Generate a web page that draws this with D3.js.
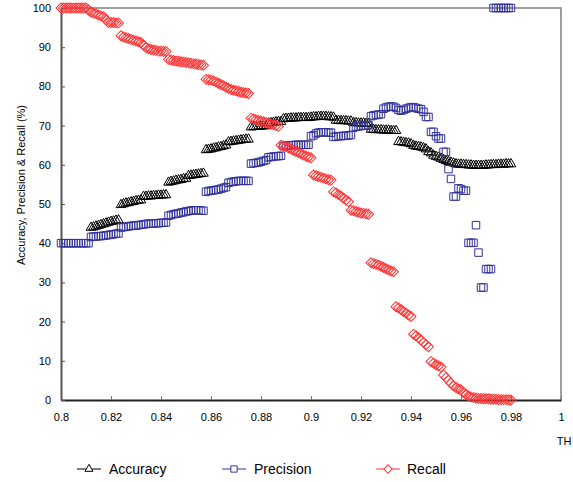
<!DOCTYPE html>
<html>
<head>
<meta charset="utf-8">
<script src="https://cdn.jsdelivr.net/npm/d3@7"></script>
<style>
  body { margin: 0; background: #fff; }
  text { font-family: "Liberation Sans", Arial, sans-serif; }
</style>
</head>
<body>
<div id="chart"></div>
<script>
// thresholds TH = 0.800 ... 0.980, one point every 0.001
const thresholds = d3.range(800, 981).map((d) => d / 1000);

// accuracy markers at 0.800-0.811 sit under the precision squares (not visible)
const accuracy = [
  null, null, null, null, null, null, null, null, null, null, null, null,
  44.0, 44.1, 44.3, 44.5, 44.7, 44.9, 45.1, 45.3, 45.5, 45.6, 45.8, 45.9,
  49.8, 50.0, 50.2, 50.3, 50.5, 50.6, 50.8, 50.9, 51.0,
  51.9, 51.9, 52.0, 52.0, 52.1, 52.1, 52.2, 52.2, 52.3, 52.3,
  55.5, 55.7, 55.8, 56.0, 56.1, 56.2, 56.4, 56.5,
  57.2, 57.3, 57.4, 57.5, 57.6, 57.7, 57.8,
  63.8, 63.9, 64.0, 64.2, 64.3, 64.5, 64.6, 64.8, 65.0,
  65.8, 65.9, 66.0, 66.1, 66.2, 66.3, 66.4, 66.5, 66.5,
  69.6, 69.7, 69.7, 69.8, 69.8, 69.9, 69.9,
  70.6, 70.7, 70.8, 70.9, 71.0, 71.0,
  71.7, 71.8, 71.8, 71.9, 71.9, 71.9, 72.0, 72.0, 72.0, 72.0, 72.0,
  72.1, 72.2, 72.2, 72.3, 72.3, 72.3, 72.3, 72.2, 72.2, 72.1,
  71.3, 71.3, 71.2, 71.2, 71.2, 71.1, 71.1,
  70.7, 70.7, 70.6, 70.6, 70.6, 70.5, 70.5,
  69.0, 69.0, 68.9, 68.9, 68.9, 68.8, 68.8, 68.8, 68.7, 68.7, 68.7,
  65.9, 65.8, 65.7, 65.6, 65.5, 65.3,
  64.9, 64.7, 64.6, 64.5, 64.3, 64.0,
  63.3, 63.0,
  62.4, 62.1, 61.9, 61.6, 61.3,
  61.0, 60.8, 60.6, 60.4,
  60.2, 60.1, 60.1, 60.0, 60.0, 59.9, 59.9, 59.8, 59.8, 59.8, 59.8, 59.8,
  59.9, 59.9, 60.0, 60.0, 60.0, 60.1, 60.1, 60.1, 60.2, 60.2, 60.2
];

const precision = [
  40, 40, 40, 40, 40, 40, 40, 40, 40, 40, 40, 40,
  41.6, 41.7, 41.7, 41.8, 41.8, 41.9, 42.0, 42.1, 42.2, 42.3, 42.4, 42.5,
  44.0, 44.1, 44.2, 44.3, 44.4, 44.5, 44.5, 44.6, 44.7, 44.8,
  44.9, 45.0, 45.0, 45.0, 45.1, 45.1, 45.2, 45.2, 45.3,
  47.0, 47.2, 47.4, 47.5, 47.6, 47.8, 47.9,
  48.1, 48.2, 48.3, 48.4, 48.4, 48.4, 48.3, 48.3,
  53.1, 53.3, 53.4, 53.5, 53.6, 53.7, 53.9, 54.1, 54.3,
  55.4, 55.6, 55.7, 55.8, 55.9, 55.9, 55.9, 55.9, 55.9,
  60.3, 60.4, 60.5, 60.6, 60.8, 61.0, 61.2,
  61.9, 62.0, 62.1, 62.2, 62.2, 62.3,
  64.8, 64.9, 65.0, 65.0, 65.0, 65.1, 65.1, 65.1, 65.1, 65.1, 65.1,
  67.3, 67.5, 68.0, 68.2, 68.3, 68.3, 68.3, 68.2, 68.2,
  67.1, 67.2, 67.3, 67.3, 67.4, 67.4, 67.5, 67.6,
  69.5, 69.7, 69.8, 69.9, 70.0, 70.0, 70.1,
  72.4, 72.6, 72.7, 72.8, 72.9,
  74.3, 74.6, 74.8, 74.9, 74.8, 74.5,
  74.0, 73.8, 74.0, 74.3, 74.5, 74.7, 74.7, 74.5, 74.3, 74.2, 73.5,
  72.2, 72.2,
  68.4, 68.4, 67.3, 66.7, 66.7, 63.3, 63.3, 58.9, 56.4, 51.9, 51.9, 54.0, 53.8, 53.4, 53.4,
  40.1, 40.1, 40.1, 44.6, 37.6, 28.7, 28.7, 33.4, 33.4, 33.4,
  100, 100, 100, 100, 100, 100, 100, 100
];

const recall = [
  100, 100, 100, 100, 100, 100, 100, 100, 100, 100, 100,
  99.5, 99.0, 98.7, 98.5, 98.2, 98.0, 97.8, 97.0,
  96.3, 96.3, 96.3, 96.2, 96.2,
  92.9, 92.6, 92.4, 92.2, 92.0, 91.8, 91.6, 91.4, 91.2,
  90.5, 89.9, 89.6, 89.4, 89.3, 89.2, 89.0, 89.0, 88.9, 88.9,
  86.9, 86.7, 86.6, 86.5, 86.4, 86.3, 86.2, 86.1, 86.0, 85.9, 85.8, 85.7, 85.6, 85.5, 85.4,
  81.8, 81.7, 81.6, 81.4, 81.1, 80.8, 80.5, 80.2, 79.8, 79.5, 79.2, 79.0, 78.9, 78.7, 78.5, 78.4, 78.3, 78.2,
  71.9, 71.7, 71.5, 71.3, 71.1, 71.0, 70.8, 70.6, 70.4, 70.2, 70.0, 69.8,
  65.0, 64.8, 64.6, 64.3, 64.0, 63.7, 63.4, 63.1, 62.8, 62.5, 62.2, 62.0, 61.8,
  57.4, 57.2, 57.0, 56.8, 56.6, 56.4, 56.2, 56.1,
  53.1, 52.8, 52.4, 52.0, 51.5, 51.0, 50.6,
  48.4, 48.3, 48.1, 47.9, 47.7, 47.6, 47.5, 47.4,
  35.0, 34.8, 34.6, 34.4, 34.1, 33.8, 33.5, 33.2, 32.9, 32.7,
  23.8, 23.5, 23.1, 22.6, 22.1, 21.7, 21.3,
  16.8, 16.4, 15.9, 15.3, 14.7, 14.1, 13.6,
  9.8, 9.4, 9.0, 8.7, 8.4,
  6.4, 5.7, 5.0, 4.3,
  3.6, 3.2, 2.8, 2.6,
  1.9, 1.4, 1.0, 0.8, 0.6, 0.5, 0.4, 0.4, 0.3, 0.3, 0.3, 0.2, 0.2, 0.2, 0.1, 0.1, 0.1, 0.1, 0.0, 0.0
];

const xTicks = [0.8, 0.82, 0.84, 0.86, 0.88, 0.9, 0.92, 0.94, 0.96, 0.98, 1];
const xTickLabels = ["0.8", "0.82", "0.84", "0.86", "0.88", "0.9", "0.92", "0.94", "0.96", "0.98", "1"];
const yTicks = [0, 10, 20, 30, 40, 50, 60, 70, 80, 90, 100];

const seriesNames = ["Accuracy", "Precision", "Recall"];
const seriesValues = [accuracy, precision, recall];

function markerPath(name, scale) {
  if (name === "Accuracy") return d3.symbol(d3.symbolTriangle, 40 * scale)();
  if (name === "Precision") return d3.symbol(d3.symbolSquare, 56 * scale)();
  return d3.symbol(d3.symbolSquare, 50 * scale)();
}
const markerColor = { Accuracy: "#000000", Precision: "#333399", Recall: "#ff3333" };

function drawChart(selector) {
  const width = 573;
  const height = 482;
  const plot = { left: 61, right: 561, top: 8, bottom: 400 };

  const svg = d3.select(selector)
    .append("svg")
    .attr("width", width)
    .attr("height", height);

  const x = d3.scaleLinear().domain([0.8, 1]).range([plot.left, plot.right]);
  const y = d3.scaleLinear().domain([0, 100]).range([plot.bottom, plot.top]);

  // plot frame (top + right)
  svg.append("path")
    .attr("d", `M${plot.left},${plot.top}H${plot.right}V${plot.bottom}`)
    .attr("fill", "none")
    .attr("stroke", "#808080")
    .attr("stroke-width", 1.5);

  // x axis
  const xAxis = svg.append("g")
    .attr("transform", `translate(0,${plot.bottom})`)
    .call(d3.axisBottom(x)
      .tickValues(xTicks)
      .tickFormat((d, i) => xTickLabels[i])
      .tickSize(-4)
      .tickPadding(13)
      .tickSizeOuter(0));
  xAxis.select(".domain").attr("stroke", "#222").attr("stroke-width", 2);
  xAxis.selectAll(".tick line").attr("stroke", "#777");
  xAxis.selectAll("text").attr("font-size", "11px").attr("fill", "#000")
    .style("font-family", "'Liberation Sans', Arial, sans-serif");

  // y axis
  const yAxis = svg.append("g")
    .attr("transform", `translate(${plot.left},0)`)
    .call(d3.axisLeft(y)
      .tickValues(yTicks)
      .tickSize(-4)
      .tickPadding(10)
      .tickSizeOuter(0));
  yAxis.select(".domain").attr("stroke", "#555").attr("stroke-width", 2);
  yAxis.selectAll(".tick line").attr("stroke", "#555");
  yAxis.selectAll("text").attr("font-size", "11px").attr("fill", "#000")
    .style("font-family", "'Liberation Sans', Arial, sans-serif");

  // axis titles
  svg.append("text")
    .attr("transform", `translate(21,185) rotate(-90)`)
    .attr("text-anchor", "middle")
    .attr("dy", "0.35em")
    .attr("font-size", "11px")
    .text("Accuracy, Precision & Recall (%)");

  svg.append("text")
    .attr("x", 564)
    .attr("y", 445)
    .attr("text-anchor", "middle")
    .attr("font-size", "11px")
    .text("TH");

  // markers
  seriesNames.forEach((name, s) => {
    const pts = thresholds
      .map((t, i) => ({ t: t, v: seriesValues[s][i] }))
      .filter((d) => d.v != null);
    svg.append("g")
      .attr("class", "serie")
      .selectAll("path")
      .data(pts)
      .enter()
      .append("path")
      .attr("d", markerPath(name, 1))
      .attr("transform", (d) => `translate(${x(d.t)},${y(d.v)})` + (name === "Recall" ? " rotate(45)" : ""))
      .attr("fill", "none")
      .attr("stroke", markerColor[name])
      .attr("stroke-width", 1);
  });

  // legend
  const legendX = [77, 222, 376];
  const legend = svg.append("g").attr("transform", "translate(0,469)");
  seriesNames.forEach((name, i) => {
    const item = legend.append("g").attr("transform", `translate(${legendX[i]},0)`);
    item.append("line")
      .attr("x1", 0).attr("x2", 24)
      .attr("y1", 0).attr("y2", 0)
      .attr("stroke", markerColor[name]);
    item.append("path")
      .attr("d", markerPath(name, 0.7))
      .attr("transform", "translate(12,0)" + (name === "Recall" ? " rotate(45)" : ""))
      .attr("fill", "#fff")
      .attr("stroke", markerColor[name]);
    item.append("text")
      .attr("x", name === "Recall" ? 31 : 32)
      .attr("y", 0)
      .attr("dy", "0.36em")
      .attr("font-size", "14px")
      .text(name);
  });
}

drawChart("#chart");
</script>
</body>
</html>
